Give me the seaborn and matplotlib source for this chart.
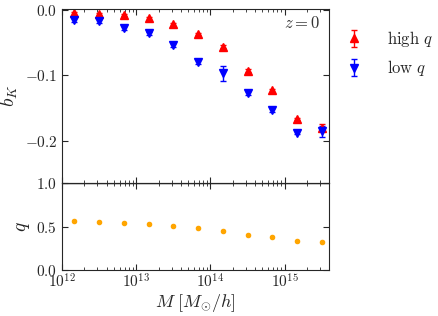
import numpy as np
import seaborn as sns
import matplotlib
matplotlib.use("Agg")
import matplotlib.pyplot as plt
from matplotlib.ticker import FuncFormatter, FixedLocator, LogLocator

# halo mass bin centres [M_sun/h]
mass = [1.47e12, 3.16e12, 6.81e12, 1.47e13, 3.16e13, 6.81e13,
        1.47e14, 3.16e14, 6.81e14, 1.47e15, 3.16e15]

bk_high = [-0.005, -0.006, -0.008, -0.013, -0.022, -0.037,
           -0.056, -0.093, -0.123, -0.167, -0.180]
bk_high_err = [0.002, 0.002, 0.002, 0.002, 0.002, 0.002,
               0.003, 0.002, 0.002, 0.002, 0.006]
bk_low = [-0.016, -0.017, -0.027, -0.036, -0.054, -0.079,
          -0.097, -0.127, -0.153, -0.188, -0.186]
bk_low_err = [0.003, 0.003, 0.003, 0.003, 0.003, 0.004,
              0.011, 0.003, 0.003, 0.002, 0.008]

q_frac = [0.565, 0.557, 0.546, 0.531, 0.508, 0.481,
          0.450, 0.404, 0.377, 0.331, 0.320]
q_err = [0.01] * len(q_frac)

sns.set_style("ticks")
plt.rcParams["font.family"] = "serif"
plt.rcParams["font.serif"] = ["DejaVu Serif"]
plt.rcParams["mathtext.fontset"] = "cm"

fig, (ax1, ax2) = plt.subplots(2, 1, figsize=(4.38, 3.16), dpi=100, sharex=True,
                               gridspec_kw={"height_ratios": [2, 1], "hspace": 0})
fig.subplots_adjust(left=0.1416, right=0.751, top=0.9706, bottom=0.1456)

ax1.errorbar(mass, bk_high, yerr=bk_high_err, fmt="^", color="red", ms=5.5,
             capsize=2.5, elinewidth=1, label=r"$\mathrm{high}\ q$")
ax1.errorbar(mass, bk_low, yerr=bk_low_err, fmt="v", color="blue", ms=5.5,
             capsize=2.5, elinewidth=1, label=r"$\mathrm{low}\ q$")
ax1.set_ylim(-0.265, 0.001)
ax1.set_ylabel(r"$b_K$", fontsize=14, labelpad=3)
ax1.text(0.966, 0.919, r"$z=0$", transform=ax1.transAxes, ha="right",
         va="center", fontsize=12, color="0.2")

ax2.errorbar(mass, q_frac, yerr=q_err, fmt="o", color="orange", ms=3,
             capsize=1.5, elinewidth=1)
ax2.axhline(1.0, color="k", lw=1)
ax2.set_ylim(0, 1)
ax2.set_ylabel(r"$q$", fontsize=14, labelpad=3)
ax2.set_xlabel(r"$M\ [M_{\odot}/h]$", fontsize=13, labelpad=1)

ax2.set_xscale("log")
ax2.set_xlim(1e12, 3.95e15)

fmt_num = FuncFormatter(lambda v, p: r"$%.1f$" % v if abs(v) > 1e-9 else r"$0.0$")
ax1.yaxis.set_major_locator(FixedLocator([0.0, -0.1, -0.2]))
ax1.yaxis.set_major_formatter(fmt_num)
ax2.yaxis.set_major_locator(FixedLocator([0.0, 0.5, 1.0]))
ax2.yaxis.set_major_formatter(fmt_num)
ax2.xaxis.set_major_locator(FixedLocator([1e12, 1e13, 1e14, 1e15]))
ax2.xaxis.set_major_formatter(FuncFormatter(lambda v, p: r"$10^{%d}$" % round(np.log10(v))))
ax2.xaxis.set_minor_locator(LogLocator(base=10, subs=np.arange(2, 10), numticks=20))

for ax in (ax1, ax2):
    ax.tick_params(which="both", direction="in", top=True, right=True, labelsize=11)
    ax.tick_params(which="major", length=4)
    ax.tick_params(which="minor", length=2)
ax1.tick_params(labelbottom=False)
ax2.tick_params(axis="x", pad=1.5)

handles, labels = ax1.get_legend_handles_labels()
fig.legend(handles=handles, labels=labels,
           loc="upper left", bbox_to_anchor=(0.755, 0.955), frameon=False,
           fontsize=12, handlelength=1.0, handletextpad=1.5, labelspacing=0.55)

plt.savefig("out.png", dpi=100)
